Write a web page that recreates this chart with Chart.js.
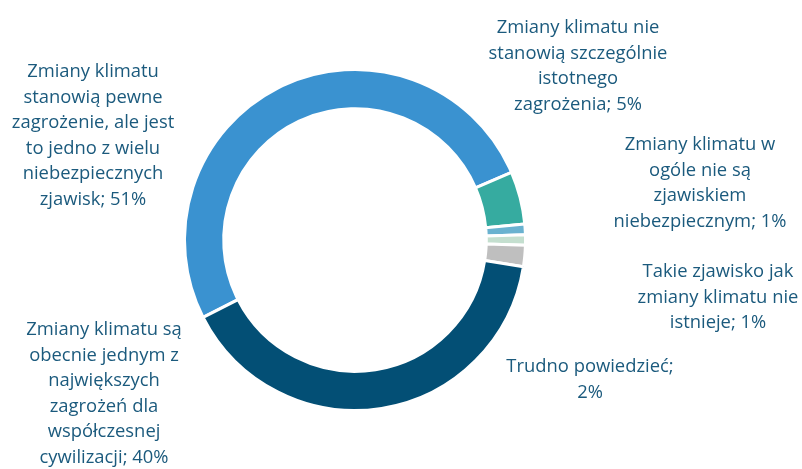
<!DOCTYPE html>
<html>
<head>
<meta charset="utf-8">
<script src="https://cdn.jsdelivr.net/npm/chart.js@4"></script>
<style>
  html, body { margin:0; padding:0; background:#fff; }
  #wrap { width:802px; height:469px; position:relative; }
</style>
</head>
<body>
<div id="wrap"><canvas id="chart"></canvas></div>
<script>
// data, clockwise from the lower-left
const labels = [
  ["Zmiany klimatu", "stanowią pewne", "zagrożenie, ale jest", "to jedno z wielu", "niebezpiecznych", "zjawisk; 51%"],
  ["Zmiany klimatu nie", "stanowią szczególnie", "istotnego", "zagrożenia; 5%"],
  ["Zmiany klimatu w", "ogóle nie są", "zjawiskiem", "niebezpiecznym; 1%"],
  ["Takie zjawisko jak", "zmiany klimatu nie", "istnieje; 1%"],
  ["Trudno powiedzieć;", "2%"],
  ["Zmiany klimatu są", "obecnie jednym z", "największych", "zagrożeń dla", "współczesnej", "cywilizacji; 40%"]
];
const values = [51, 5, 1, 1, 2, 40];
const colors = ["#3a92d0", "#36aba0", "#6ab2d0", "#c4dfcf", "#bfbfbf", "#034f75"];

// where each label block sits, relative to the ring centre (first line)
const labelPos = [[-262,-168],[223,-212],[345,-95],[363,32],[235,127],[-251,90]];

const labelPlugin = {
  id: "outerLabels",
  afterDraw(chart){
    const ctx = chart.ctx;
    const arc = chart.getDatasetMeta(0).data[0];
    const cx = arc.x, cy = arc.y;
    ctx.save();
    ctx.font = "18.4px 'Open Sans'";
    ctx.fillStyle = "#1b5a7d";
    ctx.textAlign = "center";
    ctx.textBaseline = "middle";
    labels.forEach((lines, i) => {
      const [dx, dy] = labelPos[i];
      lines.forEach((t, j) => ctx.fillText(t, cx + dx, cy + dy + j*25.5));
    });
    ctx.restore();
  }
};

chart = new Chart(document.getElementById("chart"), {
  type: "doughnut",
  data: {
    labels: labels.map(l => l.join(" ")),
    datasets: [{
      data: values,
      backgroundColor: colors,
      borderColor: "#ffffff",
      borderWidth: 3
    }]
  },
  options: {
    responsive: true,
    maintainAspectRatio: false,
    animation: false,
    rotation: 243,
    cutout: "77%",
    layout: { padding: { left:183, right:275, top:68, bottom:57 } },
    plugins: { legend: { display:false }, tooltip: { enabled:false } }
  },
  plugins: [labelPlugin]
});
</script>
</body>
</html>
